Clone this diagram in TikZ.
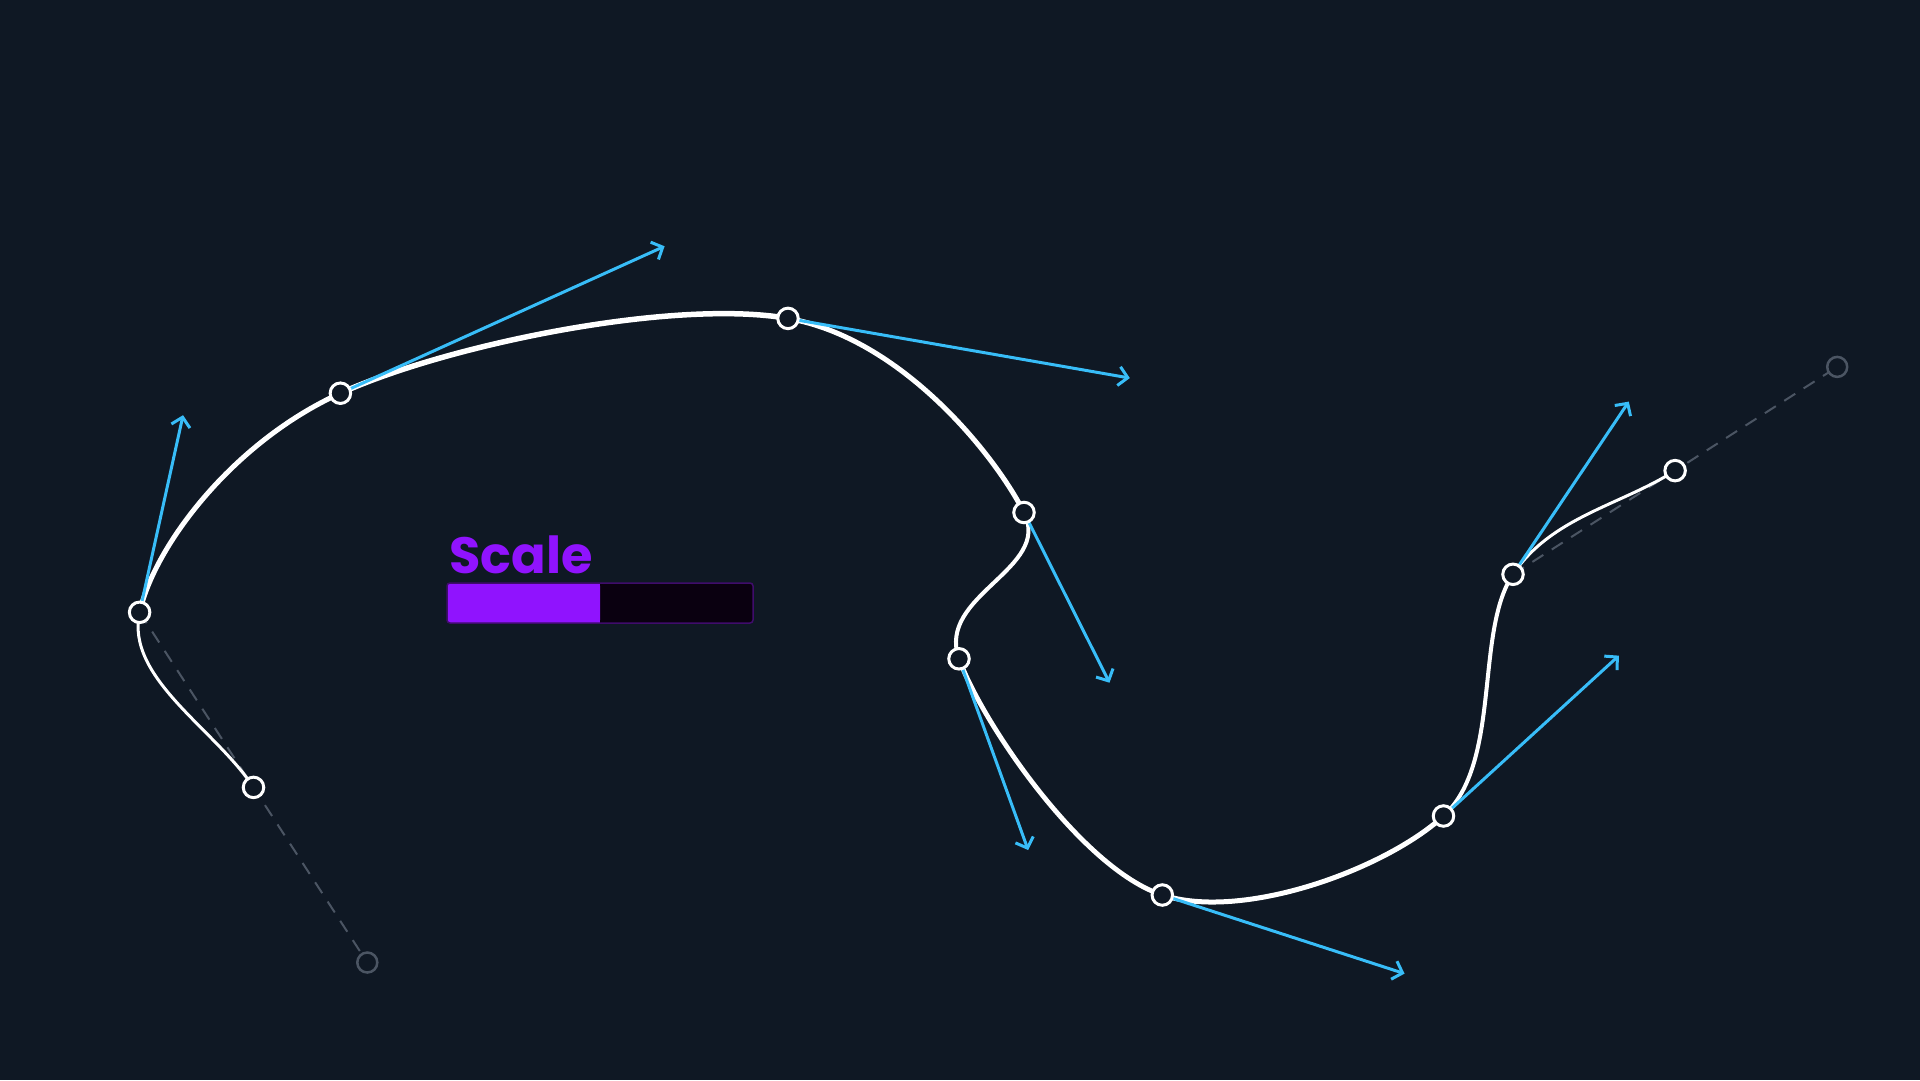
\documentclass[tikz,border=0pt]{standalone}
\usepackage{fontspec}
\newfontfamily\popfont{Poppins}
\usetikzlibrary{calc,arrows.meta}
\definecolor{bgc}{HTML}{0F1824}
\definecolor{tanblue}{HTML}{38BDF8}
\definecolor{ghostgray}{HTML}{4B5563}
\definecolor{scalepurple}{HTML}{9013FE}
\definecolor{bardark}{HTML}{0A0010}
\definecolor{barborder}{HTML}{3F0C6B}
\newcommand\crseg[5]{%
  \draw[curveline,line width=#5] (#2) .. controls ($(#2)+0.166667*(#3)-0.166667*(#1)$) and ($(#3)-0.166667*(#4)+0.166667*(#2)$) .. (#3);}
\newcommand\tanvec[4]{%
  \coordinate (#4) at ($(#2)+0.5*(#3)-0.5*(#1)$);
  \draw[tanarrow] (#2) -- (#4);}
\begin{document}
\begin{tikzpicture}[x=1pt,y=-1pt,
  curveline/.style={draw=white,line cap=round,line join=round},
  tanarrow/.style={draw=tanblue,line width=3pt,-{Straight Barb[length=9pt,width=19pt,line width=3pt]}},
  guide/.style={draw=ghostgray,line width=2pt,dash pattern=on 13pt off 10pt},
  knot/.style={circle,draw=white,fill=bgc,line width=3pt,minimum size=20.5pt,inner sep=0pt},
  ghostknot/.style={circle,draw=ghostgray,fill=bgc,line width=2.5pt,minimum size=20pt,inner sep=0pt}]
\fill[bgc] (0,0) rectangle (1920,1080);
\useasboundingbox (0,0) rectangle (1920,1080);
% points
\coordinate (G0) at (367.3,962.5);
\coordinate (A)  at (253.5,787.4);
\coordinate (P1) at (139.6,612.3);
\coordinate (P2) at (340.4,393.2);
\coordinate (P3) at (788,318.4);
\coordinate (P4) at (1024,512.5);
\coordinate (P5) at (959,658.8);
\coordinate (P6) at (1162.3,895);
\coordinate (P7) at (1443.5,816);
\coordinate (P8) at (1513,574.3);
\coordinate (B)  at (1675.1,470.6);
\coordinate (G1) at (1837.2,366.9);
% guide lines
\draw[guide] (P1) -- (G0);
\draw[guide] (P8) -- (G1);
% spline
\crseg{G0}{A}{P1}{P2}{3pt}
\crseg{A}{P1}{P2}{P3}{5pt}
\crseg{P1}{P2}{P3}{P4}{5.5pt}
\crseg{P2}{P3}{P4}{P5}{5pt}
\crseg{P3}{P4}{P5}{P6}{4pt}
\crseg{P4}{P5}{P6}{P7}{4.8pt}
\crseg{P5}{P6}{P7}{P8}{5pt}
\crseg{P6}{P7}{P8}{B}{4pt}
\crseg{P7}{P8}{B}{G1}{3pt}
% tangent vectors
\tanvec{A}{P1}{P2}{T1}
\tanvec{P1}{P2}{P3}{T2}
\tanvec{P2}{P3}{P4}{T3}
\tanvec{P3}{P4}{P5}{T4}
\tanvec{P4}{P5}{P6}{T5}
\tanvec{P5}{P6}{P7}{T6}
\tanvec{P6}{P7}{P8}{T7}
\tanvec{P7}{P8}{B}{T8}
% knots
\node[ghostknot] (g0) at (G0) {};
\node[ghostknot] (g1) at (G1) {};
\node[knot] (kA) at (A) {};
\node[knot] (k1) at (P1) {};
\node[knot] (k2) at (P2) {};
\node[knot] (k3) at (P3) {};
\node[knot] (k4) at (P4) {};
\node[knot] (k5) at (P5) {};
\node[knot] (k6) at (P6) {};
\node[knot] (k7) at (P7) {};
\node[knot] (k8) at (P8) {};
\node[knot] (kB) at (B) {};
% scale widget
\node[anchor=base west,inner sep=0pt,text=scalepurple,font=\popfont\bfseries\fontsize{51}{51}\selectfont] (scalelabel) at (449,573) {Scale};
\fill[bardark,rounded corners=3pt] (447,583) rectangle (753,623);
\fill[scalepurple,rounded corners=3pt] (447,583) rectangle (600,623);
\fill[scalepurple] (594,583) rectangle (600,623);
\draw[barborder,line width=1.5pt,rounded corners=3pt] (447,583) rectangle (753,623);
\end{tikzpicture}
\end{document}
